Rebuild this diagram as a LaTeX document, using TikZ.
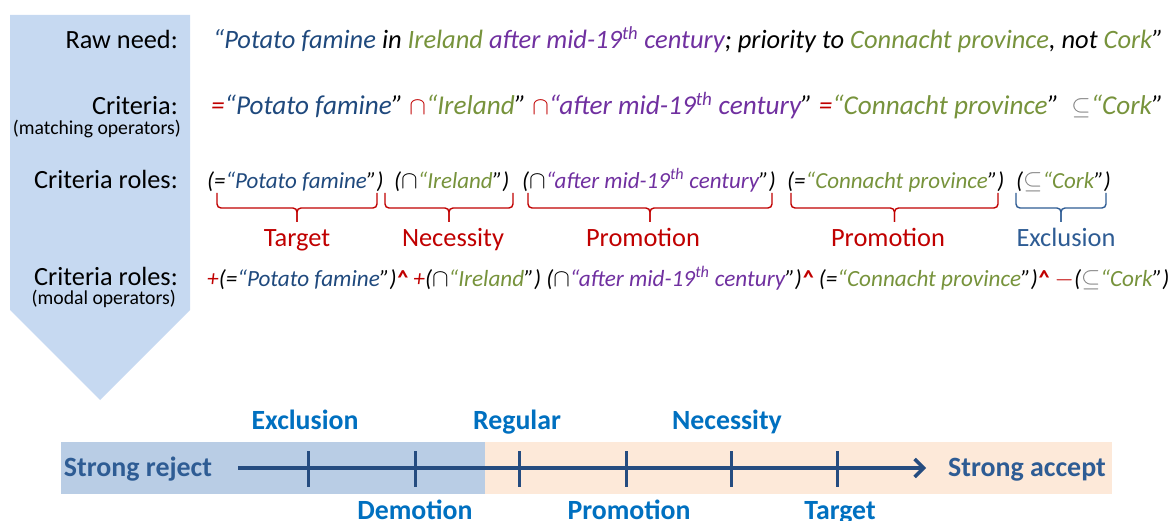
\documentclass[tikz,border=0pt]{standalone}
\usepackage{fontspec}
\setmainfont{Carlito}
\usetikzlibrary{arrows.meta}
\definecolor{cblue}{HTML}{1F497D}
\definecolor{cgreen}{HTML}{77933C}
\definecolor{cpurple}{HTML}{7030A0}
\definecolor{cred}{HTML}{C00000}
\definecolor{cgray}{HTML}{7F7F7F}
\definecolor{chev}{HTML}{C6D9F1}
\definecolor{barblue}{HTML}{B9CDE5}
\definecolor{barorange}{HTML}{FDE9D9}
\definecolor{axisc}{HTML}{254C80}
\definecolor{lblue}{HTML}{0070C0}
\definecolor{sblue}{HTML}{2E5C94}
\newcommand{\fs}[1]{\fontsize{#1}{#1}\selectfont}
\newcommand{\ordth}{\textsuperscript{th}}
\newcommand{\caret}{\textcolor{cred}{\textbf{\textasciicircum}}}
\begin{document}
\begin{tikzpicture}[x=1pt,y=-1pt,
  rowlabel/.style={anchor=base east,inner sep=0,font=\fs{26.3}},
  sublabel/.style={anchor=base east,inner sep=0,font=\fs{19.7}},
  bigrow/.style={anchor=base west,inner sep=0,font=\fs{26.5}\itshape},
  smallrow/.style={anchor=base west,inner sep=0,font=\fs{23}\itshape},
  roletxt/.style={anchor=base,inner sep=0,font=\fs{26.4}},
  bracec/.style={line width=1.4pt,rounded corners=4pt},
  axisline/.style={axisc,line width=3.4pt},
  tickmark/.style={axisc,line width=3pt},
  toplab/.style={anchor=base,inner sep=0,font=\fs{27.8}\bfseries,text=lblue},
  endlab/.style={anchor=base,inner sep=0,font=\fs{27.9}\bfseries,text=sblue}
]
\useasboundingbox (0,0) rectangle (1170,521);
% chevron
\fill[chev] (10,15) -- (190,15) -- (190,310) -- (100,400) -- (10,310) -- cycle;
% row labels
\node[rowlabel] (l1) at (178,49) {Raw need:};
\node[rowlabel] (l2) at (178,115) {Criteria:};
\node[sublabel] (l2s) at (181,135) {(matching operators)};
\node[rowlabel] (l3) at (178,189) {Criteria roles:};
\node[rowlabel] (l4) at (178,286) {Criteria roles:};
\node[sublabel] (l4s) at (176,305) {(modal operators)};
% row 1
\node[bigrow] (r1) at (213,49) {\textcolor{cblue}{“Potato famine} in \textcolor{cgreen}{Ireland} \textcolor{cpurple}{after mid-19\ordth{} century}; priority to \textcolor{cgreen}{Connacht province}, not \textcolor{cgreen}{Cork}”};
% row 2
\node[bigrow,font=\fs{27.2}\itshape] (r2) at (211,115) {\textcolor{cred}{=}\textcolor{cblue}{“Potato famine}” \textcolor{cred}{$\cap$}\textcolor{cgreen}{“Ireland}” \textcolor{cred}{$\cap$}\textcolor{cpurple}{“after mid-19\ordth{} century}” \textcolor{cred}{=}\textcolor{cgreen}{“Connacht province}”\ \ \textcolor{cgray}{$\subseteq$}\textcolor{cgreen}{“Cork}”};
% row 3 segments
\node[smallrow] (s1) at (207,189) {(=\textcolor{cblue}{“Potato famine}”)};
\node[smallrow] (s2) at (394,189) {($\cap$\textcolor{cgreen}{“Ireland}”)};
\node[smallrow] (s3) at (522,189) {($\cap$\textcolor{cpurple}{“after mid-19\ordth{} century}”)};
\node[smallrow] (s4) at (787,189) {(=\textcolor{cgreen}{“Connacht province}”)};
\node[smallrow] (s5) at (1016,189) {(\textcolor{cgray}{$\subseteq$}\textcolor{cgreen}{“Cork}”)};
% braces
\foreach \a/\b/\c in {217/377/cred,385/513/cred,528/772/cred,791/998/cred,1016/1106/sblue}{
  \pgfmathsetmacro{\m}{(\a+\b)/2}
  \draw[bracec,\c] (\a,193) |- (\m,208) -- (\m,222);
  \draw[bracec,\c] (\b,193) |- (\m,208) -- (\m,222);
}
\node[roletxt,text=cred] (b1) at (297,247) {Target};
\node[roletxt,text=cred] (b2) at (453,247) {Necessity};
\node[roletxt,text=cred] (b3) at (643,247) {Promotion};
\node[roletxt,text=cred] (b4) at (888,247) {Promotion};
\node[roletxt,text=sblue] (b5) at (1066,247) {Exclusion};
% row 4
\node[smallrow,font=\fs{23.2}\itshape] (r4) at (207,287) {\textcolor{cred}{+}(=\textcolor{cblue}{“Potato famine}”)\caret{} \textcolor{cred}{+}($\cap$\textcolor{cgreen}{“Ireland}”) ($\cap$\textcolor{cpurple}{“after mid-19\ordth{} century}”)\caret{} (=\textcolor{cgreen}{“Connacht province}”)\caret{} \textcolor{cred}{$-$}(\textcolor{cgray}{$\subseteq$}\textcolor{cgreen}{“Cork}”)};
% bottom scale
\fill[barblue] (61,442) rectangle (485,494);
\fill[barorange] (485,442) rectangle (1112,494);
\node[endlab] (sr) at (138,476) {Strong reject};
\node[endlab] (sa) at (1027,476) {Strong accept};
\coordinate (a0) at (238,468);
\coordinate (a1) at (926,468);
\draw[axisline,-{Straight Barb[length=9pt,width=18pt]}] (a0) -- (a1);
\foreach \x/\n in {308/t1,415/t2,519/t3,626/t4,731/t5,837/t6}{
  \draw[tickmark] (\x,451) -- (\x,487);
}
\node[toplab] (e1) at (305,429) {Exclusion};
\node[toplab] (e2) at (517,429) {Regular};
\node[toplab] (e3) at (727,429) {Necessity};
\node[toplab] (e4) at (415,519) {Demotion};
\node[toplab] (e5) at (629,519) {Promotion};
\node[toplab] (e6) at (840,519) {Target};
\end{tikzpicture}
\end{document}
